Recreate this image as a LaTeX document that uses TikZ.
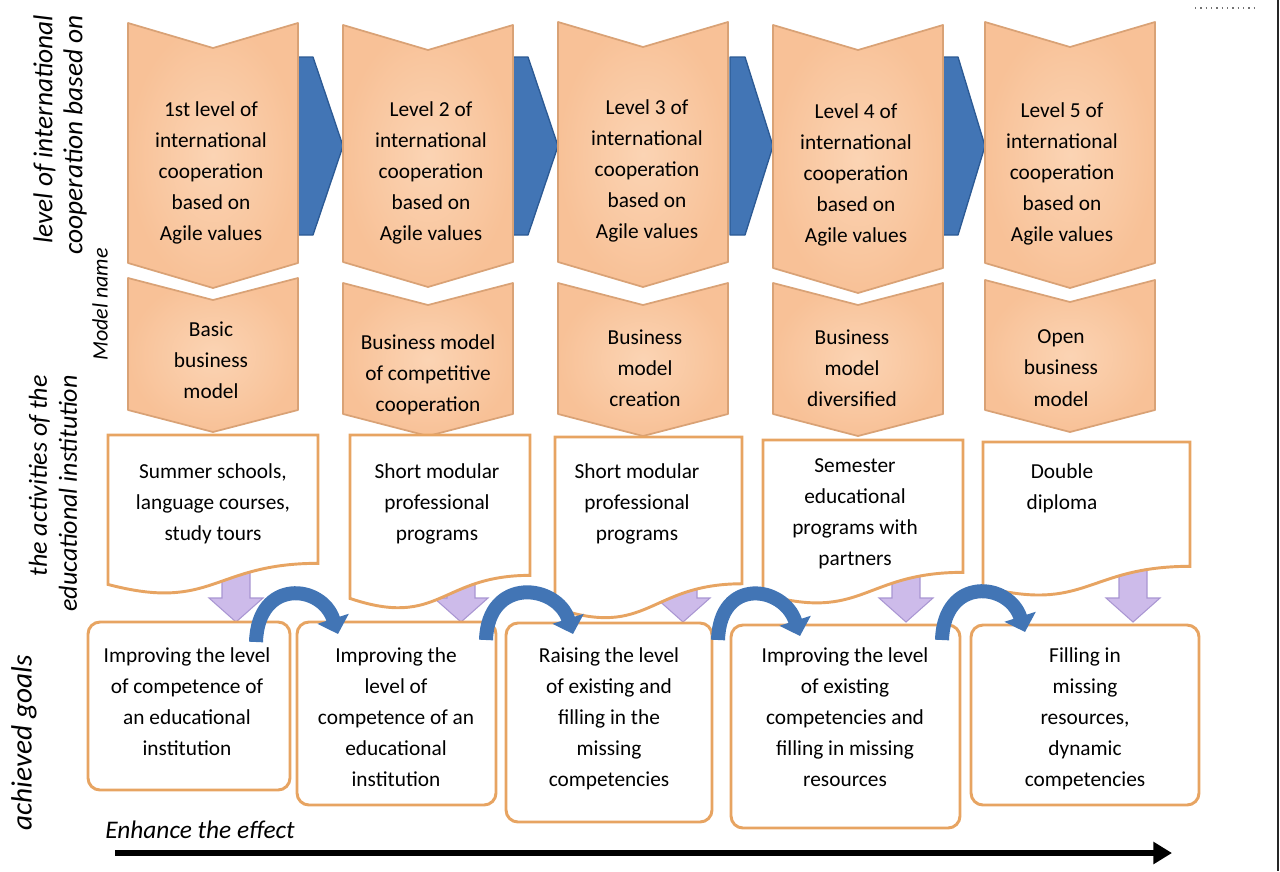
\documentclass[tikz,border=0pt]{standalone}
\usepackage{fontspec}
\setmainfont{Carlito}
\usetikzlibrary{arrows.meta,calc}
\definecolor{peach}{HTML}{F8C197}
\definecolor{peachlight}{HTML}{FBD4B4}
\definecolor{peachline}{HTML}{D9A276}
\definecolor{docline}{HTML}{E7A462}
\definecolor{flowblue}{HTML}{4275B5}
\definecolor{flowblueline}{HTML}{2C5A94}
\definecolor{lilac}{HTML}{CDBBEA}
\definecolor{lilacline}{HTML}{A996D2}
% chevron: left x, top y, lower end of the sides, notch depth
\newcommand\chevronshape[4]{%
  \draw[chevshape] (#1,#2) -- (#1+85,#2+#4) -- (#1+170,#2) -- (#1+170,#3)
    -- (#1+85,#3+#4) -- (#1,#3) -- cycle;}
% document shape with a wavy lower edge: left, right, top, height
\newcommand\docshape[4]{%
  \draw[docbox] (#1,#3) -- (#2,#3) -- (#2,#3+0.802*#4)
    .. controls ({(#1+#2)/2},#3+0.802*#4) and ({(#1+#2)/2},#3+1.107*#4) .. (#1,#3+0.934*#4) -- cycle;}
% block arrow between two chevrons: right edge of one, left edge of the next
\newcommand\stepshape[2]{%
  \draw[stepflow] (#1,57) -- (#1+15,57) -- (#2,146) -- (#1+15,235) -- (#1,235) -- cycle;}
% downward block arrow: centre x
\newcommand\dropshape[1]{%
  \draw[dropflow] (#1-14,565) -- (#1+14,565) -- (#1+14,598) -- (#1+27,598) -- (#1,622)
    -- (#1-27,598) -- (#1-14,598) -- cycle;}
\begin{document}
\begin{tikzpicture}[x=0.75pt,y=-0.75pt,
  chevshape/.style={inner color=peachlight,outer color=peach,draw=peachline,line width=1.3pt,line join=round},
  docbox/.style={fill=white,draw=docline,line width=2.2pt},
  goalbox/.style={fill=white,draw=docline,line width=2.2pt,rounded corners=9pt},
  txt/.style={align=center,font=\fontsize{16}{23.4}\selectfont,inner sep=0pt},
  sidelabel/.style={rotate=90,anchor=east,align=right,inner sep=0pt},
  stepflow/.style={fill=flowblue,draw=flowblueline,line width=1pt,line join=round},
  dropflow/.style={fill=lilac,draw=lilacline,line width=0.8pt},
  hop/.style={draw=flowblue,line width=10.5pt,-{Triangle[width=24pt,length=12pt]}},
]
\useasboundingbox (0,0) rectangle (1280,871);

% block arrows joining the levels
\stepshape{298}{343}
\stepshape{513}{558}
\stepshape{730}{773}
\stepshape{943}{985}

% level chevrons
\chevronshape{128}{23}{263}{25}
\chevronshape{343}{25}{262}{25}
\chevronshape{558}{22}{262}{25}
\chevronshape{773}{25}{268}{25}
\chevronshape{985}{22}{263}{25}

% model chevrons
\chevronshape{128}{278}{410}{22}
\chevronshape{343}{283}{414}{22}
\chevronshape{558}{283}{414}{22}
\chevronshape{773}{283}{414}{22}
\chevronshape{985}{280}{410}{22}

% arrows from activities to goals
\dropshape{236}
\dropshape{461}
\dropshape{683}
\dropshape{906}
\dropshape{1133}

% activity documents
\docshape{108}{318}{435}{160}
\docshape{350}{530}{435}{175}
\docshape{555}{742}{437}{183}
\docshape{763}{963}{440}{165}
\docshape{983}{1190}{442}{155}

% goal boxes
\draw[goalbox] (88,622) rectangle (290,790);
\draw[goalbox] (297,622) rectangle (496,805);
\draw[goalbox] (506,623) rectangle (712,822);
\draw[goalbox] (731,625) rectangle (960,828);
\draw[goalbox] (971,625) rectangle (1199,805);

% level texts
\node[txt] (L1) at (211,173) {1st level of\\international\\cooperation\\based on\\Agile values};
\node[txt] (L2) at (431,173) {Level 2 of\\international\\cooperation\\based on\\Agile values};
\node[txt] (L3) at (647,171) {Level 3 of\\international\\cooperation\\based on\\Agile values};
\node[txt] (L4) at (856,175) {Level 4 of\\international\\cooperation\\based on\\Agile values};
\node[txt] (L5) at (1062,174) {Level 5 of\\international\\cooperation\\based on\\Agile values};

% model texts
\node[txt] (M1) at (211,360) {Basic\\business\\model};
\node[txt] (M2) at (428,375) {Business model\\of competitive\\cooperation};
\node[txt] (M3) at (645,368) {Business\\model\\creation};
\node[txt] (M4) at (852,368) {Business\\model\\diversified};
\node[txt] (M5) at (1061,368) {Open\\business\\model};

% activity texts
\node[txt,anchor=north] (A1) at (213,463) {Summer schools,\\language courses,\\study tours};
\node[txt,anchor=north] (A2) at (437,463) {Short modular\\professional\\programs};
\node[txt,anchor=north] (A3) at (637,463) {Short modular\\professional\\programs};
\node[txt,anchor=north] (A4) at (855,458) {Semester\\educational\\programs with\\partners};
\node[txt,anchor=north] (A5) at (1062,463) {Double\\diploma};

% goal texts
\node[txt,anchor=north] (G1) at (187,647) {Improving the level\\of competence of\\an educational\\institution};
\node[txt,anchor=north] (G2) at (396,647) {Improving the\\level of\\competence of an\\educational\\institution};
\node[txt,anchor=north] (G3) at (609,647) {Raising the level\\of existing and\\filling in the\\missing\\competencies};
\node[txt,anchor=north] (G4) at (845,647) {Improving the level\\of existing\\competencies and\\filling in missing\\resources};
\node[txt,anchor=north] (G5) at (1085,647) {Filling in\\missing\\resources,\\dynamic\\competencies};

% curved hops between goal boxes
\coordinate (h1s) at (256,642); \coordinate (h1e) at (338,634);
\coordinate (h2s) at (486,640); \coordinate (h2e) at (573,634);
\coordinate (h3s) at (718,640); \coordinate (h3e) at (800,636);
\coordinate (h4s) at (942,640); \coordinate (h4e) at (1025,632);
\draw[hop] (h1s) .. controls +(2,-64) and +(-16,-50) .. (h1e);
\draw[hop] (h2s) .. controls +(2,-64) and +(-16,-50) .. (h2e);
\draw[hop] (h3s) .. controls +(2,-64) and +(-16,-50) .. (h3e);
\draw[hop] (h4s) .. controls +(2,-64) and +(-16,-50) .. (h4e);

% row captions
\node[sidelabel,font=\itshape\fontsize{20.5}{22.5}\selectfont] (capA) at (60,15) {level of international\\cooperation based on};
\node[sidelabel,font=\itshape\fontsize{16.5}{18}\selectfont] (capB) at (100,248) {Model name};
\node[sidelabel,font=\itshape\fontsize{19.5}{22.5}\selectfont] (capC) at (53,375) {the activities of the\\educational institution};
\node[sidelabel,font=\itshape\fontsize{22}{24}\selectfont] (capD) at (24,655) {achieved goals};

% effect axis
\node[anchor=west,inner sep=0pt,font=\itshape\fontsize{19}{22}\selectfont] (eff) at (105,830) {Enhance the effect};
\coordinate (e0) at (115,853);
\coordinate (e1) at (1172,853);
\draw[line width=4.5pt,-{Triangle[width=16pt,length=14pt]}] (e0) -- (e1);

% page edge marks
\draw[black!55,line width=1.2pt,dash pattern=on 1pt off 3pt] (1195,8) -- (1258,8);
\draw[black!85,line width=1.1pt] (1278,0) -- (1278,871);
\end{tikzpicture}
\end{document}
